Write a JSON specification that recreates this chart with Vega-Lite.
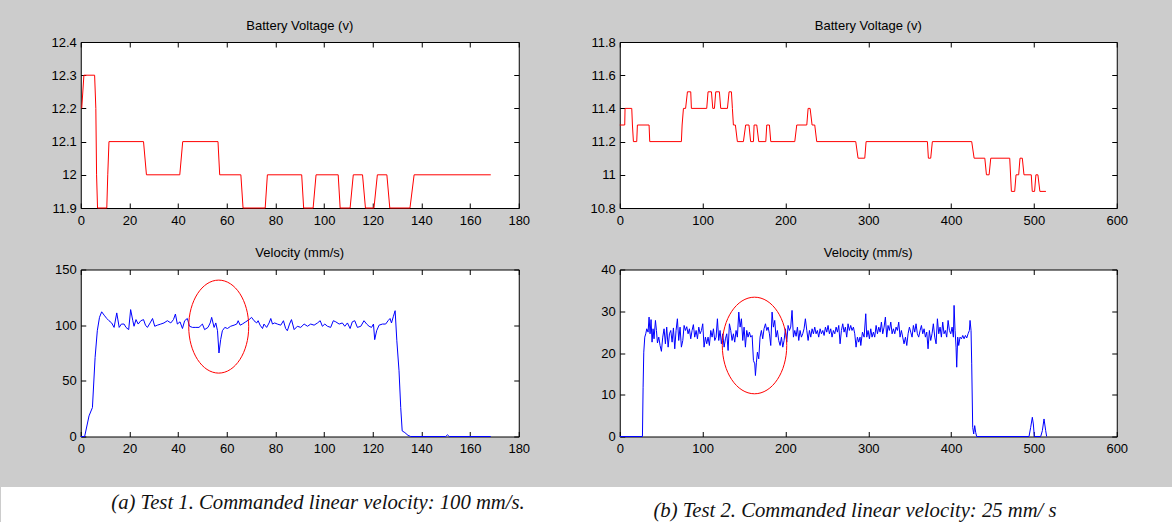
{
  "$schema": "https://vega.github.io/schema/vega-lite/v6.json",
  "background": "#CCCCCC",
  "padding": {"left": 0, "top": 19, "right": 0, "bottom": 0},
  "config": {
    "font": "Liberation Sans",
    "view": {"stroke": "#000000", "strokeWidth": 1, "fill": "#ffffff"},
    "axis": {"domain": false, "grid": false, "ticks": true, "tickSize": -5, "tickColor": "#000000", "tickWidth": 1, "labelFont": "Liberation Sans", "labelFontSize": 13, "labelColor": "#000000", "labelFlush": false, "labelOverlap": false, "title": null},
    "axisX": {"labelPadding": 11},
    "axisY": {"labelPadding": 9.5},
    "title": {"font": "Liberation Sans", "fontSize": 13, "fontWeight": "normal", "color": "#000000", "offset": 3.5, "baseline": "alphabetic", "frame": "group", "anchor": "middle"}
  },
  "datasets": {
    "v1": [
      {"t":0.4,"v":12.2},{"t":1.3,"v":12.3},{"t":5.7,"v":12.3},{"t":6.2,"v":12.2},{"t":6.5,"v":12.0},{"t":6.9,"v":11.9},{"t":10.7,"v":11.9},{"t":11.1,"v":12.0},{"t":11.6,"v":12.1},{"t":25.8,"v":12.1},{"t":27,"v":12.0},{"t":40.7,"v":12.0},{"t":41.9,"v":12.1},{"t":56.4,"v":12.1},{"t":57.1,"v":12.0},{"t":65.8,"v":12.0},{"t":66.7,"v":11.9},{"t":75.8,"v":11.9},{"t":76.7,"v":12.0},{"t":90.8,"v":12.0},{"t":91.6,"v":11.9},{"t":95.5,"v":11.9},{"t":96.7,"v":12.0},{"t":105.8,"v":12.0},{"t":106.6,"v":11.9},{"t":110.7,"v":11.9},{"t":112,"v":12.0},{"t":115.8,"v":12.0},{"t":117,"v":11.9},{"t":120.5,"v":11.9},{"t":121.9,"v":12.0},{"t":125.8,"v":12.0},{"t":127,"v":11.9},{"t":135.3,"v":11.9},{"t":137,"v":12.0},{"t":168.5,"v":12.0}
    ],
    "v2": [
      {"t":0,"v":11.3},{"t":6,"v":11.3},{"t":6.4,"v":11.4},{"t":14.5,"v":11.4},{"t":15.3,"v":11.3},{"t":16.5,"v":11.2},{"t":20.5,"v":11.2},{"t":21.3,"v":11.3},{"t":35.4,"v":11.3},{"t":36.2,"v":11.2},{"t":74.4,"v":11.2},{"t":75.3,"v":11.3},{"t":76.9,"v":11.4},{"t":79.5,"v":11.4},{"t":81.7,"v":11.5},{"t":85.7,"v":11.5},{"t":86.5,"v":11.4},{"t":105,"v":11.4},{"t":106.6,"v":11.5},{"t":110.7,"v":11.5},{"t":112.3,"v":11.4},{"t":114.3,"v":11.4},{"t":115.9,"v":11.5},{"t":120.3,"v":11.5},{"t":121.9,"v":11.4},{"t":130,"v":11.4},{"t":132,"v":11.5},{"t":134.8,"v":11.5},{"t":136,"v":11.4},{"t":137.2,"v":11.3},{"t":139.6,"v":11.3},{"t":142,"v":11.2},{"t":149.3,"v":11.2},{"t":152,"v":11.3},{"t":156,"v":11.3},{"t":158,"v":11.2},{"t":161.4,"v":11.2},{"t":162.2,"v":11.3},{"t":165.4,"v":11.3},{"t":167.8,"v":11.2},{"t":176.3,"v":11.2},{"t":177.5,"v":11.3},{"t":180.7,"v":11.3},{"t":182.3,"v":11.2},{"t":211.3,"v":11.2},{"t":213.7,"v":11.3},{"t":225.8,"v":11.3},{"t":227.4,"v":11.4},{"t":229.8,"v":11.4},{"t":232.2,"v":11.3},{"t":235.4,"v":11.3},{"t":237.8,"v":11.2},{"t":284.9,"v":11.2},{"t":287.7,"v":11.1},{"t":295.8,"v":11.1},{"t":297.4,"v":11.2},{"t":371.4,"v":11.2},{"t":372.6,"v":11.1},{"t":375.4,"v":11.1},{"t":377.4,"v":11.2},{"t":424.9,"v":11.2},{"t":427.8,"v":11.1},{"t":440.7,"v":11.1},{"t":442.7,"v":11.0},{"t":445.9,"v":11.0},{"t":447.9,"v":11.1},{"t":470.8,"v":11.1},{"t":472.8,"v":10.9},{"t":476.8,"v":10.9},{"t":478.4,"v":11.0},{"t":481.6,"v":11.0},{"t":483.2,"v":11.1},{"t":486,"v":11.1},{"t":488,"v":11.0},{"t":496.8,"v":11.0},{"t":498,"v":10.9},{"t":500.8,"v":10.9},{"t":502.4,"v":11.0},{"t":504.8,"v":11.0},{"t":507.2,"v":10.9},{"t":514.5,"v":10.9}
    ],
    "w1": [
      {"t":0,"v":0},{"t":1.6,"v":0},{"t":3.4,"v":18.5},{"t":4.8,"v":26},{"t":5.9,"v":71},{"t":6.8,"v":95},{"t":7.7,"v":107},{"t":8.6,"v":112},{"t":9.6,"v":109},{"t":10.7,"v":106},{"t":11.6,"v":104},{"t":12.7,"v":102},{"t":13.7,"v":98},{"t":14.8,"v":111},{"t":15.8,"v":98},{"t":16.7,"v":101},{"t":17.8,"v":101},{"t":18.6,"v":98},{"t":19.7,"v":96},{"t":20.5,"v":114},{"t":21.4,"v":104},{"t":21.9,"v":99},{"t":22.7,"v":105},{"t":23.6,"v":101},{"t":24.7,"v":104},{"t":25.8,"v":105},{"t":26.6,"v":100},{"t":27.4,"v":98},{"t":28.5,"v":102},{"t":29.5,"v":106},{"t":30.4,"v":99},{"t":31.5,"v":100},{"t":32.9,"v":101},{"t":34.2,"v":102},{"t":35.6,"v":104},{"t":37,"v":102},{"t":38.1,"v":105},{"t":38.9,"v":110},{"t":39.7,"v":101},{"t":40.8,"v":103},{"t":41.8,"v":97},{"t":42.7,"v":104},{"t":43.8,"v":106},{"t":44.7,"v":99},{"t":45.9,"v":98},{"t":47.3,"v":98},{"t":48.6,"v":98},{"t":50,"v":101},{"t":50.9,"v":96},{"t":52.3,"v":98},{"t":53.2,"v":102},{"t":53.8,"v":107},{"t":54.8,"v":98},{"t":55.5,"v":102},{"t":56.2,"v":95},{"t":56.8,"v":75},{"t":57.5,"v":87},{"t":58.2,"v":95},{"t":59.2,"v":98},{"t":60.3,"v":97},{"t":61.6,"v":99},{"t":63,"v":100},{"t":64.1,"v":101},{"t":64.7,"v":104},{"t":65.5,"v":100},{"t":66.4,"v":101},{"t":67.8,"v":103},{"t":69.2,"v":105},{"t":70.2,"v":107},{"t":71.2,"v":104},{"t":72.3,"v":102},{"t":72.9,"v":104},{"t":73.7,"v":100},{"t":74.7,"v":97},{"t":75.3,"v":101},{"t":76.4,"v":98},{"t":77.4,"v":102},{"t":78.1,"v":106},{"t":78.8,"v":101},{"t":79.7,"v":102},{"t":80.8,"v":101},{"t":82.2,"v":100},{"t":83.3,"v":104},{"t":84.2,"v":97},{"t":84.9,"v":95},{"t":85.8,"v":101},{"t":86.6,"v":105},{"t":87.7,"v":96},{"t":89,"v":99},{"t":90.4,"v":98},{"t":91.8,"v":101},{"t":93.2,"v":99},{"t":94.5,"v":101},{"t":95.9,"v":100},{"t":97.3,"v":102},{"t":98.4,"v":104},{"t":99.3,"v":99},{"t":100.3,"v":101},{"t":101.4,"v":99},{"t":102.7,"v":98},{"t":103.8,"v":104},{"t":104.8,"v":103},{"t":106.2,"v":101},{"t":107.5,"v":102},{"t":108.5,"v":99},{"t":109.6,"v":102},{"t":110.7,"v":97},{"t":111.6,"v":103},{"t":112.6,"v":104},{"t":113.7,"v":98},{"t":115.1,"v":99},{"t":116.4,"v":104},{"t":117.5,"v":101},{"t":118.5,"v":99},{"t":119.5,"v":98},{"t":120.3,"v":101},{"t":120.8,"v":87},{"t":121.6,"v":95},{"t":122.6,"v":100},{"t":124,"v":101},{"t":125.3,"v":101},{"t":126.3,"v":104},{"t":127.1,"v":106},{"t":127.7,"v":102},{"t":128.5,"v":108},{"t":129.2,"v":113},{"t":129.9,"v":86},{"t":130.8,"v":59},{"t":131.5,"v":26},{"t":132.1,"v":5},{"t":133.2,"v":3.5},{"t":134.5,"v":1},{"t":135.6,"v":0},{"t":150,"v":0},{"t":150.7,"v":1.5},{"t":151.4,"v":0},{"t":168.5,"v":0}
    ],
    "w2": [
      {"t":0,"v":0},{"t":27.4,"v":0},{"t":28.2,"v":11.8},{"t":29,"v":20.2},{"t":30.2,"v":23.8},{"t":31.4,"v":24.6},{"t":32.6,"v":25.8},{"t":34.2,"v":25},{"t":35.4,"v":28.6},{"t":36.6,"v":24.6},{"t":37.8,"v":28},{"t":39,"v":22.6},{"t":40.2,"v":25.8},{"t":41.4,"v":23.4},{"t":43.1,"v":27.8},{"t":44.3,"v":25.4},{"t":45.5,"v":22.4},{"t":47.1,"v":23.8},{"t":48.7,"v":21.8},{"t":50.3,"v":20.4},{"t":51.9,"v":23.8},{"t":53.5,"v":25.8},{"t":55.1,"v":22.2},{"t":56.7,"v":26.2},{"t":58.4,"v":21.4},{"t":60,"v":24.6},{"t":61.6,"v":25.4},{"t":63.2,"v":22.6},{"t":64.8,"v":26},{"t":66.4,"v":21},{"t":68,"v":25.4},{"t":69.6,"v":28.2},{"t":71.2,"v":23},{"t":72.8,"v":26.2},{"t":74.4,"v":21.4},{"t":76.1,"v":23},{"t":77.7,"v":26.6},{"t":79.3,"v":25.4},{"t":80.9,"v":26.3},{"t":82.5,"v":24.6},{"t":84.1,"v":25.8},{"t":85.7,"v":23.4},{"t":87.3,"v":25.4},{"t":88.9,"v":26.8},{"t":90.5,"v":23.8},{"t":92.2,"v":25.4},{"t":93.8,"v":23.4},{"t":95.4,"v":26.2},{"t":97,"v":24.6},{"t":98.6,"v":25.4},{"t":100.2,"v":27},{"t":101.8,"v":21.4},{"t":103.4,"v":23.8},{"t":105,"v":22.2},{"t":106.6,"v":23.8},{"t":108.2,"v":21.8},{"t":109.9,"v":25.4},{"t":111.5,"v":23.8},{"t":113.1,"v":25.8},{"t":114.7,"v":23},{"t":116.3,"v":23.8},{"t":117.9,"v":28.2},{"t":119.5,"v":23},{"t":121.1,"v":25.4},{"t":122.7,"v":22.2},{"t":124.3,"v":24.6},{"t":126,"v":21.4},{"t":127.6,"v":23.4},{"t":129.2,"v":24.6},{"t":130.8,"v":20.6},{"t":132.4,"v":27},{"t":134,"v":25.4},{"t":135.6,"v":23},{"t":137.2,"v":24.6},{"t":138.8,"v":22.6},{"t":140.4,"v":25.4},{"t":142,"v":23.8},{"t":143.7,"v":29.8},{"t":145.3,"v":26.2},{"t":146.9,"v":28.2},{"t":148.5,"v":23},{"t":150.1,"v":26.2},{"t":151.7,"v":21.4},{"t":153.3,"v":25.4},{"t":154.9,"v":23.8},{"t":156.5,"v":25},{"t":158.1,"v":23.8},{"t":159.8,"v":24.2},{"t":161.4,"v":18.2},{"t":163,"v":17.4},{"t":163.8,"v":14.6},{"t":165,"v":17.8},{"t":166.2,"v":20.2},{"t":167.8,"v":18.6},{"t":169.4,"v":23.8},{"t":171,"v":25.4},{"t":172.6,"v":23.4},{"t":174.2,"v":25.8},{"t":175.9,"v":27},{"t":177.5,"v":25.4},{"t":179.1,"v":26.2},{"t":180.7,"v":24.6},{"t":182.3,"v":21.8},{"t":183.9,"v":29.8},{"t":185.5,"v":26.2},{"t":187.1,"v":27.8},{"t":188.7,"v":23.8},{"t":190.3,"v":25.4},{"t":191.9,"v":23},{"t":193.6,"v":21.8},{"t":195.2,"v":23.8},{"t":196.8,"v":21.4},{"t":198.4,"v":23},{"t":200,"v":25.8},{"t":201.6,"v":22.6},{"t":203.2,"v":26.6},{"t":204.8,"v":25.4},{"t":206.4,"v":26.2},{"t":208,"v":30.2},{"t":209.7,"v":23.8},{"t":211.3,"v":25.4},{"t":212.9,"v":24},{"t":214.5,"v":26.2},{"t":216.1,"v":23},{"t":217.7,"v":25.4},{"t":219.3,"v":23.8},{"t":220.9,"v":24.6},{"t":222.5,"v":25.8},{"t":224.1,"v":28.2},{"t":225.8,"v":25.4},{"t":227.4,"v":23},{"t":229,"v":25.4},{"t":230.6,"v":23.8},{"t":232.2,"v":25.8},{"t":233.8,"v":24.6},{"t":235.4,"v":26.2},{"t":237,"v":24.6},{"t":238.6,"v":25.4},{"t":240.2,"v":23.8},{"t":241.9,"v":25.8},{"t":243.5,"v":24.6},{"t":245.1,"v":25.4},{"t":246.7,"v":24.2},{"t":248.3,"v":26.2},{"t":249.9,"v":25},{"t":251.5,"v":26.6},{"t":253.1,"v":24.6},{"t":254.7,"v":25.8},{"t":256.3,"v":23.8},{"t":257.9,"v":25.4},{"t":259.6,"v":24.6},{"t":261.2,"v":26.2},{"t":262.8,"v":25},{"t":264.4,"v":26.6},{"t":266,"v":22.2},{"t":267.6,"v":25.4},{"t":269.2,"v":27},{"t":270.8,"v":25},{"t":272.4,"v":26.2},{"t":274,"v":23.8},{"t":275.6,"v":27},{"t":277.2,"v":25.4},{"t":278.8,"v":26.6},{"t":280.4,"v":25.4},{"t":282.1,"v":26.2},{"t":283.7,"v":24.6},{"t":285.3,"v":21.4},{"t":286.9,"v":23.8},{"t":288.5,"v":22.6},{"t":290.1,"v":23.8},{"t":291,"v":21.8},{"t":293,"v":25},{"t":295,"v":23.8},{"t":297,"v":29.4},{"t":298.2,"v":23.8},{"t":299.8,"v":25.4},{"t":301.4,"v":23.4},{"t":303,"v":25.8},{"t":304.6,"v":23.8},{"t":306.2,"v":25},{"t":307.8,"v":23.8},{"t":309.5,"v":26.6},{"t":311.1,"v":24.6},{"t":312.7,"v":26.2},{"t":314.3,"v":25},{"t":315.9,"v":27.4},{"t":317.5,"v":24.6},{"t":319.1,"v":26.2},{"t":320.7,"v":28.6},{"t":322.3,"v":23.8},{"t":323.9,"v":26.6},{"t":325.5,"v":25.4},{"t":327.2,"v":27.4},{"t":328.8,"v":24.6},{"t":330.4,"v":25.8},{"t":332,"v":24.6},{"t":333.6,"v":26.2},{"t":335.2,"v":25.4},{"t":336.8,"v":27.4},{"t":338.4,"v":23.8},{"t":340,"v":25.4},{"t":341.6,"v":23.8},{"t":343.2,"v":22.2},{"t":344.9,"v":23.8},{"t":346.5,"v":21.8},{"t":348.1,"v":24.6},{"t":349.7,"v":26.2},{"t":351.3,"v":25},{"t":352.9,"v":23.8},{"t":354.5,"v":26.6},{"t":356.1,"v":25},{"t":357.7,"v":27},{"t":359.3,"v":24.6},{"t":360.9,"v":23.8},{"t":362.6,"v":25.4},{"t":364.2,"v":26.6},{"t":365.8,"v":24.6},{"t":367.4,"v":25.8},{"t":369,"v":23.8},{"t":370.6,"v":25},{"t":372.2,"v":21},{"t":373.8,"v":25.4},{"t":375.4,"v":23},{"t":377,"v":24.6},{"t":378.6,"v":27},{"t":380.3,"v":23.8},{"t":381.9,"v":22.2},{"t":383.5,"v":28.2},{"t":385.1,"v":24.6},{"t":386.7,"v":26.2},{"t":388.3,"v":23.8},{"t":389.9,"v":27.4},{"t":391.5,"v":24.6},{"t":393.1,"v":25.4},{"t":394.7,"v":23.8},{"t":396.4,"v":27.8},{"t":398,"v":25.4},{"t":399.6,"v":24.6},{"t":401.2,"v":26.2},{"t":402.8,"v":23.8},{"t":403.6,"v":31.4},{"t":404.8,"v":25.4},{"t":406,"v":21.4},{"t":406.8,"v":16.6},{"t":408,"v":23.8},{"t":409.2,"v":21.8},{"t":410.8,"v":23.8},{"t":412.5,"v":23.4},{"t":414.1,"v":24.2},{"t":415.7,"v":23.4},{"t":417.3,"v":24.2},{"t":418.9,"v":23.6},{"t":420.5,"v":24.6},{"t":422.1,"v":25.4},{"t":422.9,"v":27.8},{"t":424.1,"v":25.4},{"t":424.9,"v":17.4},{"t":426.1,"v":2.2},{"t":427.3,"v":0.6},{"t":428.5,"v":2.6},{"t":429.7,"v":1},{"t":430.9,"v":0},{"t":494.1,"v":0},{"t":496.1,"v":2.2},{"t":498.1,"v":4.6},{"t":499.3,"v":3},{"t":500.5,"v":0},{"t":508.2,"v":0},{"t":510.2,"v":1.4},{"t":512.2,"v":4.2},{"t":514.2,"v":1.4},{"t":515.4,"v":0}
    ]
  },
  "spacing": 31,
  "center": true,
  "vconcat": [
    {
      "columns": 2,
      "bounds": "flush",
      "spacing": {"row": 61.5, "column": 101},
      "concat": [
        {
          "title": "Battery Voltage (v)",
          "width": 438,
          "height": 166,
          "data": {"name": "v1"},
          "layer": [
            {
              "mark": {"type": "line", "color": "#FF0000", "strokeWidth": 1},
              "encoding": {
                "x": {"field": "t", "type": "quantitative", "scale": {"domain": [0, 180], "nice": false, "zero": false}, "axis": {"values": [0, 20, 40, 60, 80, 100, 120, 140, 160, 180]}},
                "y": {"field": "v", "type": "quantitative", "scale": {"domain": [11.9, 12.4], "nice": false, "zero": false}, "axis": {"values": [11.9, 12, 12.1, 12.2, 12.3, 12.4], "format": "~f", "minExtent": 80}}
              }
            },
            {
              "mark": {"type": "line", "opacity": 0},
              "encoding": {
                "x": {"field": "t", "type": "quantitative", "scale": {"domain": [0, 180], "nice": false, "zero": false}, "axis": {"orient": "top", "labels": false, "values": [0, 20, 40, 60, 80, 100, 120, 140, 160, 180]}},
                "y": {"field": "v", "type": "quantitative", "scale": {"domain": [11.9, 12.4], "nice": false, "zero": false}, "axis": {"orient": "right", "labels": false, "values": [11.9, 12, 12.1, 12.2, 12.3, 12.4]}}
              }
            }
          ],
          "resolve": {"axis": {"x": "independent", "y": "independent"}}
        },
        {
          "title": "Battery Voltage (v)",
          "width": 497,
          "height": 166,
          "data": {"name": "v2"},
          "layer": [
            {
              "mark": {"type": "line", "color": "#FF0000", "strokeWidth": 1},
              "encoding": {
                "x": {"field": "t", "type": "quantitative", "scale": {"domain": [0, 600], "nice": false, "zero": false}, "axis": {"values": [0, 100, 200, 300, 400, 500, 600]}},
                "y": {"field": "v", "type": "quantitative", "scale": {"domain": [10.8, 11.8], "nice": false, "zero": false}, "axis": {"values": [10.8, 11, 11.2, 11.4, 11.6, 11.8], "format": "~f"}}
              }
            },
            {
              "mark": {"type": "line", "opacity": 0},
              "encoding": {
                "x": {"field": "t", "type": "quantitative", "scale": {"domain": [0, 600], "nice": false, "zero": false}, "axis": {"orient": "top", "labels": false, "values": [0, 100, 200, 300, 400, 500, 600]}},
                "y": {"field": "v", "type": "quantitative", "scale": {"domain": [10.8, 11.8], "nice": false, "zero": false}, "axis": {"orient": "right", "labels": false, "minExtent": 56, "values": [10.8, 11, 11.2, 11.4, 11.6, 11.8]}}
              }
            }
          ],
          "resolve": {"axis": {"x": "independent", "y": "independent"}}
        },
        {
          "title": "Velocity (mm/s)",
          "width": 438,
          "height": 167,
          "layer": [
            {
              "data": {"name": "w1"},
              "mark": {"type": "line", "color": "#0000FF", "strokeWidth": 1},
              "encoding": {
                "x": {"field": "t", "type": "quantitative", "scale": {"domain": [0, 180], "nice": false, "zero": false}, "axis": {"values": [0, 20, 40, 60, 80, 100, 120, 140, 160, 180]}},
                "y": {"field": "v", "type": "quantitative", "scale": {"domain": [0, 150], "nice": false, "zero": false}, "axis": {"values": [0, 50, 100, 150], "minExtent": 80}}
              }
            },
            {
              "data": {"values": [{"t": 56.7, "v": 98.7}]},
              "mark": {"type": "point", "shape": "M0.645,0C0.645,0.5523,0.3562,1,0,1C-0.3562,1,-0.645,0.5523,-0.645,0C-0.645,-0.5523,-0.3562,-1,0,-1C0.3562,-1,0.645,-0.5523,0.645,0Z", "size": 8649, "filled": false, "color": "#FF0000", "strokeWidth": 1, "opacity": 1},
              "encoding": {
                "x": {"field": "t", "type": "quantitative", "scale": {"domain": [0, 180], "nice": false, "zero": false}, "axis": {"orient": "top", "labels": false, "values": [0, 20, 40, 60, 80, 100, 120, 140, 160, 180]}},
                "y": {"field": "v", "type": "quantitative", "scale": {"domain": [0, 150], "nice": false, "zero": false}, "axis": {"orient": "right", "labels": false, "values": [0, 50, 100, 150]}}
              }
            }
          ],
          "resolve": {"axis": {"x": "independent", "y": "independent"}}
        },
        {
          "title": "Velocity (mm/s)",
          "width": 497,
          "height": 167,
          "layer": [
            {
              "data": {"name": "w2"},
              "mark": {"type": "line", "color": "#0000FF", "strokeWidth": 1},
              "encoding": {
                "x": {"field": "t", "type": "quantitative", "scale": {"domain": [0, 600], "nice": false, "zero": false}, "axis": {"values": [0, 100, 200, 300, 400, 500, 600]}},
                "y": {"field": "v", "type": "quantitative", "scale": {"domain": [0, 40], "nice": false, "zero": false}, "axis": {"values": [0, 10, 20, 30, 40]}}
              }
            },
            {
              "data": {"values": [{"t": 162.7, "v": 21.8}]},
              "mark": {"type": "point", "shape": "M0.667,0C0.667,0.5523,0.3684,1,0,1C-0.3684,1,-0.667,0.5523,-0.667,0C-0.667,-0.5523,-0.3684,-1,0,-1C0.3684,-1,0.667,-0.5523,0.667,0Z", "size": 9332, "filled": false, "color": "#FF0000", "strokeWidth": 1, "opacity": 1},
              "encoding": {
                "x": {"field": "t", "type": "quantitative", "scale": {"domain": [0, 600], "nice": false, "zero": false}, "axis": {"orient": "top", "labels": false, "values": [0, 100, 200, 300, 400, 500, 600]}},
                "y": {"field": "v", "type": "quantitative", "scale": {"domain": [0, 40], "nice": false, "zero": false}, "axis": {"orient": "right", "labels": false, "minExtent": 56, "values": [0, 10, 20, 30, 40]}}
              }
            }
          ],
          "resolve": {"axis": {"x": "independent", "y": "independent"}}
        }
      ]
    },
    {
      "width": 1252,
      "height": 35,
      "view": {"fill": "#ffffff", "stroke": null},
      "data": {"values": [
        {"panel": "a", "caption": "(a) Test 1. Commanded linear velocity: 100 mm/s."},
        {"panel": "b", "caption": "(b) Test 2. Commanded linear velocity: 25 mm/ s"}
      ]},
      "mark": {"type": "text", "font": "Liberation Serif", "fontStyle": "italic", "fontSize": 20.7, "baseline": "alphabetic", "align": "center", "color": "#111111"},
      "encoding": {
        "x": {"field": "panel", "type": "nominal", "scale": {"type": "point", "range": [317, 854], "padding": 0}, "axis": null},
        "y": {"field": "panel", "type": "nominal", "scale": {"type": "point", "range": [21.5, 29.5], "padding": 0}, "axis": null},
        "text": {"field": "caption"}
      }
    }
  ]
}
